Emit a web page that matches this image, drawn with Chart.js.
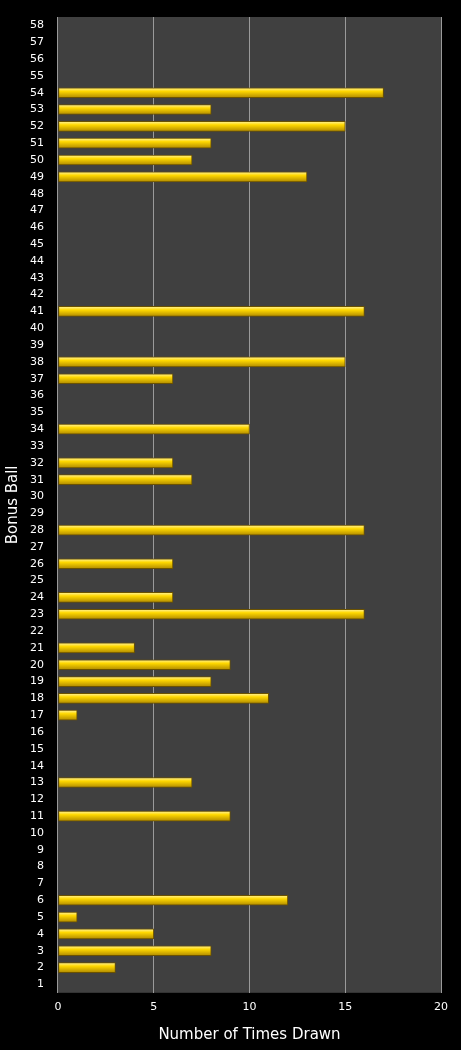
<!DOCTYPE html>
<html><head><meta charset="utf-8">
<script src="https://cdn.jsdelivr.net/npm/chart.js@4"></script>
<style>html,body{margin:0;padding:0;background:#000}#w{width:461px;height:1050px}</style>
</head><body><div id="w"><canvas id="c"></canvas></div>
<script>
const balls = Array.from({length:58},(_,i)=>String(i+1));
const counts = [0,3,8,5,1,12,0,0,0,0,9,0,7,0,0,0,1,11,8,9,4,0,16,6,0,6,0,16,0,0,7,6,0,10,0,0,6,15,0,0,16,0,0,0,0,0,0,0,13,7,8,15,8,17,0,0,0,0];
const xTicks = [0,5,10,15,20];
const bgPlugin = {id:'bg',beforeDraw(ch){const a=ch.chartArea,c=ch.ctx;c.save();c.fillStyle='#404040';c.fillRect(a.left,a.top,a.right-a.left,a.bottom-a.top);c.restore();}};
new Chart(document.getElementById('c'),{
type:'bar',
data:{labels:balls,datasets:[{data:counts,
 backgroundColor(ctx){const ch=ctx.chart;const ys=ch.scales&&ch.scales.y;if(!ch.chartArea||!ys)return '#f2cc00';
  const y=ys.getPixelForValue(ctx.dataIndex);if(!isFinite(y))return '#f2cc00';
  const g=ch.ctx.createLinearGradient(0,y-5,0,y+5);
  g.addColorStop(0,'#fff3a0');g.addColorStop(0.35,'#ffd800');g.addColorStop(1,'#b08a00');return g;},
 borderColor:'#6b5200',borderWidth:1,barThickness:10,borderSkipped:false}]},
options:{indexAxis:'y',responsive:true,maintainAspectRatio:false,animation:false,
 layout:{padding:{top:17,right:20,left:0,bottom:2}},
 plugins:{legend:{display:false},tooltip:{enabled:false}},
 scales:{
  x:{min:0,max:20,afterBuildTicks(s){s.ticks=xTicks.map(v=>({value:v}));},
   grid:{color:'#9a9a9a',drawTicks:false,lineWidth:1},border:{display:false},
   ticks:{color:'#fff',font:{family:'DejaVu Sans',size:11},padding:8},
   title:{display:true,text:'Number of Times Drawn',color:'#fff',font:{family:'DejaVu Sans',size:15},padding:{top:4}}},
  y:{reverse:true,grid:{display:false},border:{display:false},
   ticks:{color:'#fff',font:{family:'DejaVu Sans',size:11},autoSkip:false,padding:6},
   title:{display:true,text:'Bonus Ball',color:'#fff',font:{family:'DejaVu Sans',size:15},padding:{bottom:2}}}
 }},
plugins:[bgPlugin]});
</script></body></html>
